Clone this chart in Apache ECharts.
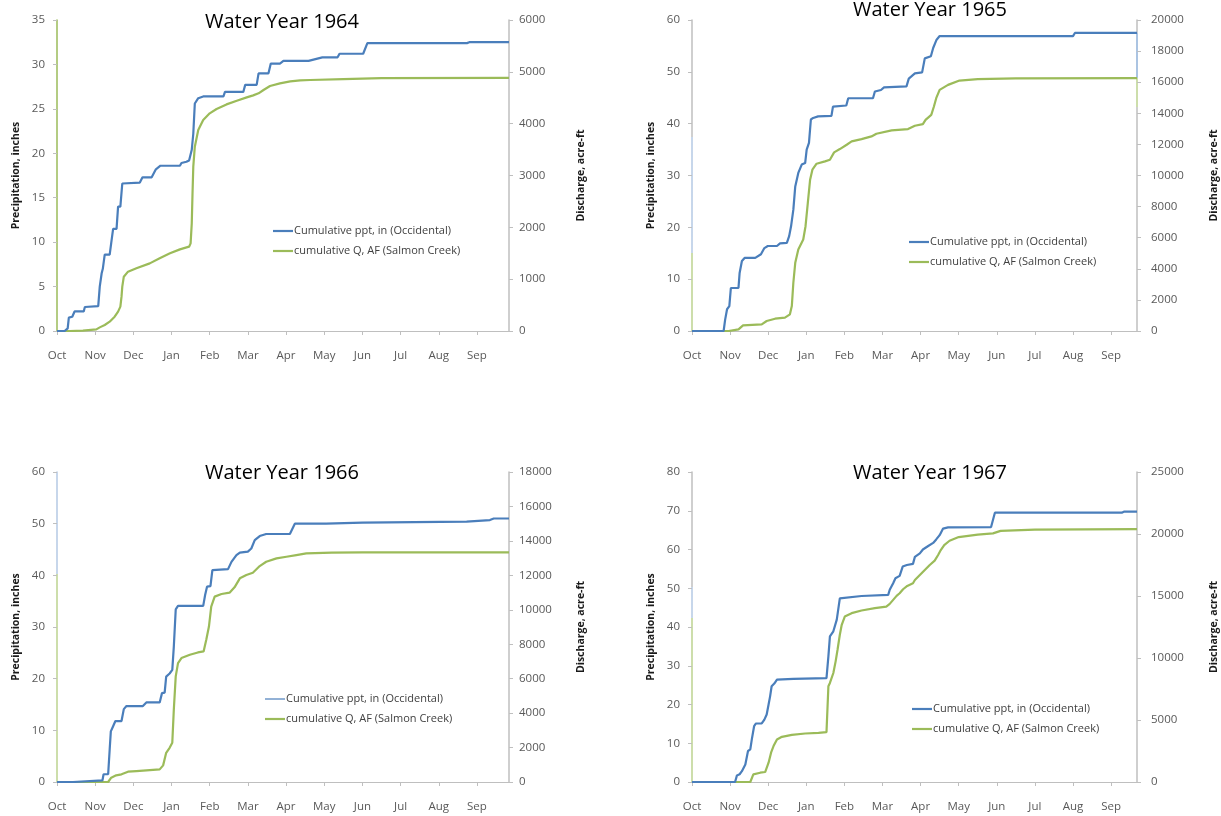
<!DOCTYPE html>
<html><head><meta charset="utf-8">
<script src="https://cdn.jsdelivr.net/npm/echarts@6/dist/echarts.min.js"></script>
<style>html,body{margin:0;padding:0;background:#fff}#c{width:1221px;height:816px}</style>
</head><body><div id="c"></div>
<script>
// ---------- DATA ----------
const monthNames = ['Oct','Nov','Dec','Jan','Feb','Mar','Apr','May','Jun','Jul','Aug','Sep'];
const monthTicks = [0,1,2,3,4,5,6,7,8,9,10,11];
const titles = ['Water Year 1964','Water Year 1965','Water Year 1966','Water Year 1967'];
const pptName = 'Cumulative ppt, in (Occidental)';
const qName = 'cumulative Q, AF (Salmon Creek)';
const pptAxisName = 'Precipitation, inches';
const qAxisName = 'Discharge, acre-ft';
const pptMax = [35, 60, 60, 80];
const pptStep = [5, 10, 10, 10];
const qMax = [6000, 20000, 18000, 25000];
const qStep = [1000, 2000, 2000, 5000];
const monthSpan = [11.84, 11.68, 11.84, 11.68];

// [month since Oct 1, cumulative precipitation in inches]
const ppt1964 = [[0,0],[0.2,0],[0.28,0.3],[0.31,1.5],[0.4,1.6],[0.46,2.2],[0.7,2.2],[0.73,2.7],[1.08,2.8],[1.12,5],[1.17,6.5],[1.2,7],[1.25,8.6],[1.38,8.6],[1.42,9.9],[1.47,11.5],[1.56,11.5],[1.6,14],[1.66,14],[1.71,16.6],[1.75,16.7],[2.17,16.7],[2.24,17.3],[2.48,17.3],[2.59,18.2],[2.71,18.6],[3.22,18.6],[3.26,18.9],[3.39,19.05],[3.46,19.2],[3.53,20.4],[3.57,22.2],[3.61,25.6],[3.7,26.2],[3.83,26.4],[4.36,26.4],[4.4,26.9],[4.88,26.9],[4.93,27.7],[5.23,27.7],[5.28,29],[5.54,29],[5.6,30.1],[5.84,30.1],[5.93,30.4],[6.59,30.4],[6.64,30.6],[6.95,30.8],[7.35,30.8],[7.4,31.2],[8.02,31.2],[8.13,32.4],[10.74,32.4],[10.8,32.5],[11.84,32.5]];
// [month since Oct 1, cumulative discharge in acre-ft]
const q1964 = [[0,0],[0.33,0],[0.68,8],[1.03,32],[1.12,70],[1.25,116],[1.38,180],[1.51,276],[1.6,373],[1.66,470],[1.69,662],[1.71,855],[1.75,1048],[1.86,1145],[2.08,1209],[2.43,1305],[2.69,1402],[2.96,1498],[3.22,1575],[3.46,1627],[3.5,1691],[3.53,2077],[3.55,2656],[3.57,3170],[3.61,3556],[3.7,3877],[3.83,4070],[4.0,4199],[4.18,4282],[4.44,4372],[4.71,4443],[4.97,4507],[5.14,4546],[5.28,4585],[5.41,4649],[5.58,4726],[5.84,4777],[6.11,4816],[6.37,4835],[6.63,4842],[7.5,4860],[8.5,4880],[11.84,4885]];

const ppt1965 = [[0,0],[0.83,0],[0.87,2.2],[0.92,4.2],[0.98,4.8],[1.02,8.3],[1.22,8.3],[1.25,11.2],[1.31,13.5],[1.38,14.1],[1.66,14.1],[1.81,14.8],[1.9,16],[1.99,16.4],[2.23,16.4],[2.31,16.9],[2.49,17],[2.55,18.3],[2.6,20.2],[2.66,23.4],[2.71,27.9],[2.79,30.5],[2.88,32.1],[2.97,32.4],[3.01,35],[3.07,36.3],[3.12,40.8],[3.18,41.1],[3.31,41.4],[3.66,41.5],[3.7,43.3],[4.05,43.5],[4.1,44.9],[4.75,44.9],[4.8,46.2],[4.96,46.5],[5.04,47],[5.63,47.2],[5.69,48.7],[5.85,49.7],[6.04,49.9],[6.11,52.6],[6.27,53],[6.33,54.6],[6.42,56.2],[6.5,56.9],[10.0,56.9],[10.05,57.5],[11.68,57.5]];
const q1965 = [[0,0],[0.96,0],[1.22,107],[1.34,364],[1.83,428],[1.96,642],[2.18,791],[2.44,856],[2.57,1070],[2.62,1604],[2.66,3102],[2.71,4385],[2.79,5240],[2.92,5882],[2.98,6738],[3.04,8235],[3.1,9732],[3.16,10374],[3.27,10759],[3.49,10909],[3.62,11016],[3.73,11486],[3.88,11700],[4.06,11978],[4.19,12192],[4.45,12342],[4.71,12513],[4.84,12684],[5.24,12898],[5.67,12984],[5.85,13198],[6.06,13304],[6.13,13582],[6.28,13903],[6.35,14438],[6.41,14973],[6.5,15508],[6.72,15829],[7.02,16107],[7.5,16200],[8.5,16240],[11.68,16260]];

const ppt1966 = [[0,0],[0.42,0],[0.44,0.3],[1.19,0.3],[1.22,1.5],[1.34,1.5],[1.38,6.3],[1.41,9.8],[1.47,10.8],[1.53,11.8],[1.69,11.8],[1.75,14.1],[1.82,14.7],[2.25,14.7],[2.34,15.4],[2.69,15.4],[2.75,17.2],[2.82,17.3],[2.86,20.4],[2.95,21],[3.02,21.7],[3.06,26.2],[3.11,33.4],[3.17,34.1],[3.83,34.1],[3.88,36.2],[3.93,37.8],[4.02,37.9],[4.07,41],[4.48,41.2],[4.57,42.6],[4.7,43.9],[4.79,44.4],[5.0,44.6],[5.09,45.2],[5.18,46.8],[5.31,47.6],[5.48,48],[6.1,48],[6.23,50],[7.05,50],[7.09,50.2],[8.0,50.2],[8.02,50.4],[10.73,50.4],[10.78,50.7],[11.34,50.7],[11.44,51],[11.84,51]];
const q1966 = [[0,0],[1.34,0],[1.42,251],[1.55,386],[1.69,444],[1.86,598],[2.08,637],[2.43,694],[2.69,733],[2.78,965],[2.86,1698],[2.95,1987],[3.02,2276],[3.06,4205],[3.11,6134],[3.17,6906],[3.26,7195],[3.48,7388],[3.69,7523],[3.84,7581],[3.91,8256],[3.98,9028],[4.04,10185],[4.13,10764],[4.31,10918],[4.52,10995],[4.65,11304],[4.79,11825],[4.96,12018],[5.13,12153],[5.31,12539],[5.48,12789],[5.75,12982],[6.01,13079],[6.27,13175],[6.53,13271],[7.2,13320],[8.0,13330],[11.84,13335]];

const ppt1967 = [[0,0],[1.13,0],[1.18,1.7],[1.25,2],[1.31,2.8],[1.4,4.5],[1.47,8],[1.53,8.4],[1.57,11],[1.63,14.4],[1.68,15.1],[1.83,15.1],[1.9,16.1],[1.96,17.4],[2.01,20],[2.05,22.1],[2.09,24.7],[2.16,25.4],[2.23,26.4],[2.66,26.6],[3.53,26.8],[3.58,32.4],[3.62,37.6],[3.71,38.9],[3.8,41.9],[3.88,47.4],[3.93,47.9],[4.45,48],[5.15,48.3],[5.19,49.6],[5.28,51.3],[5.34,52.6],[5.45,53.2],[5.53,55.6],[5.64,56],[5.8,56.3],[5.85,58.1],[5.98,59],[6.06,60],[6.2,60.9],[6.33,61.7],[6.41,62.6],[6.5,63.7],[6.59,65.4],[6.72,65.7],[7.85,65.8],[7.95,69.5],[11.28,69.5],[11.35,69.8],[11.68,69.8]];
const q1967 = [[0,0],[1.53,0],[1.61,616],[1.79,750],[1.92,804],[2.01,1554],[2.08,2412],[2.14,2894],[2.23,3430],[2.36,3645],[2.62,3806],[2.97,3913],[3.32,3966],[3.53,4020],[3.58,7718],[3.62,7986],[3.71,8790],[3.77,9728],[3.82,10666],[3.88,11872],[3.93,12676],[4.01,13346],[4.19,13614],[4.45,13829],[4.8,14016],[5.1,14150],[5.19,14365],[5.28,14686],[5.37,15008],[5.45,15222],[5.54,15544],[5.65,15812],[5.8,16026],[5.85,16294],[5.98,16696],[6.11,17098],[6.24,17500],[6.37,17849],[6.46,18304],[6.53,18706],[6.62,19108],[6.76,19457],[7.0,19750],[7.5,19950],[7.9,20050],[8.1,20250],[9.0,20350],[11.68,20400]];

const pptSeries = [ppt1964, ppt1965, ppt1966, ppt1967];
const qSeries = [q1964, q1965, q1966, q1967];

// ---------- LAYOUT / STYLE ----------
const BLUE = '#4A7EBB', GREEN = '#9BBB59', GREY = '#BFBFBF', LBLUE = '#B4C9E4', LGREEN = '#BCD38F';
const FONT = '"Open Sans", "DejaVu Sans", sans-serif';
const panels = [
  {grid:{left:57, top:20, width:452, height:311}, title:[282,22], legend:[273,224],
   leftStops:[[0,GREEN],[1,GREEN]], rightStops:[[0,GREY],[1,GREY]], pptIcon:2.2},
  {grid:{left:692, top:20, width:446, height:311}, title:[930,10], legend:[909,235],
   leftStops:[[0,GREY],[0.376,GREY],[0.376,LBLUE],[0.749,LBLUE],[0.749,LGREEN],[1,LGREEN]],
   rightStops:[[0,GREY],[0.042,GREY],[0.042,'#8FB0D8'],[0.188,'#8FB0D8'],[0.188,LGREEN],[0.28,LGREEN],[0.28,GREY],[1,GREY]], pptIcon:2.2},
  {grid:{left:57, top:472, width:452, height:310}, title:[282,473], legend:[265,692],
   leftStops:[[0,LBLUE],[0.33,LBLUE],[0.33,LGREEN],[1,LGREEN]], rightStops:[[0,GREY],[1,GREY]], pptIcon:1.2},
  {grid:{left:692, top:472, width:446, height:310}, title:[930,473], legend:[912,702],
   leftStops:[[0,GREY],[0.37,GREY],[0.37,LBLUE],[0.47,LBLUE],[0.47,LGREEN],[1,LGREEN]], rightStops:[[0,GREY],[1,GREY]], pptIcon:2.2}
];

function grad(g, stops) {
  return {type:'linear', x:0, y:g.top, x2:0, y2:g.top + g.height, global:true,
          colorStops: stops.map(s => ({offset:s[0], color:s[1]}))};
}

const option = {
  animation:false, backgroundColor:'#fff',
  grid:[], xAxis:[], yAxis:[], series:[], legend:[], graphic:[]
};

const legendText = {fontFamily:FONT, fontSize:11, color:'#404040', lineHeight:14, padding:[0,0,0,-4]};

panels.forEach((p, i) => {
  option.grid.push(Object.assign({containLabel:false}, p.grid));
  option.xAxis.push({
    type:'value', gridIndex:i, min:0, max:monthSpan[i],
    axisLine:{show:true, onZero:false, lineStyle:{color:GREY, width:1}},
    axisTick:{show:true, length:4, customValues:monthTicks, lineStyle:{color:GREY}},
    axisLabel:{customValues:monthTicks, formatter:v => monthNames[Math.round(v)] || '',
               color:'#595959', fontFamily:FONT, fontSize:11.5, margin:19},
    splitLine:{show:false}
  });
  option.yAxis.push({
    type:'value', gridIndex:i, position:'left', min:0, max:pptMax[i], interval:pptStep[i],
    name:pptAxisName, nameLocation:'middle', nameRotate:90, nameGap:35,
    nameTextStyle:{fontFamily:FONT, fontSize:10.5, fontWeight:'bold', color:'#1a1a1a'},
    axisLine:{show:true, lineStyle:{color:grad(p.grid, p.leftStops), width:1.5}},
    axisTick:{show:true, length:4, lineStyle:{color:GREY}},
    axisLabel:{color:'#595959', fontFamily:FONT, fontSize:11.5, margin:12, formatter:v => String(v)},
    splitLine:{show:false}
  });
  option.yAxis.push({
    type:'value', gridIndex:i, position:'right', min:0, max:qMax[i], interval:qStep[i],
    name:qAxisName, nameLocation:'middle', nameRotate:90, nameGap:(i % 2 === 0 ? 67 : 72),
    nameTextStyle:{fontFamily:FONT, fontSize:10.5, fontWeight:'bold', color:'#1a1a1a'},
    axisLine:{show:true, lineStyle:{color:grad(p.grid, p.rightStops), width:1.5}},
    axisTick:{show:true, length:4, lineStyle:{color:GREY}},
    axisLabel:{color:'#595959', fontFamily:FONT, fontSize:11.5, margin:(i % 2 === 0 ? 10 : 14), formatter:v => String(v)},
    splitLine:{show:false}
  });
  option.series.push({
    name:pptName, type:'line', xAxisIndex:i, yAxisIndex:2*i, data:pptSeries[i],
    symbol:'none', clip:true, color:BLUE, lineStyle:{color:BLUE, width:2.2}, z:3
  });
  option.series.push({
    name:qName, type:'line', xAxisIndex:i, yAxisIndex:2*i+1, data:qSeries[i],
    symbol:'none', clip:true, color:GREEN, lineStyle:{color:GREEN, width:2.2}, z:2
  });
  option.legend.push({
    orient:'vertical', left:p.legend[0], top:p.legend[1], padding:0,
    icon:'rect', itemWidth:20, itemHeight:p.pptIcon, selectedMode:false,
    data:[pptName], textStyle:legendText
  });
  option.legend.push({
    orient:'vertical', left:p.legend[0], top:p.legend[1] + 20, padding:0,
    icon:'rect', itemWidth:20, itemHeight:2.2, selectedMode:false,
    data:[qName], textStyle:legendText
  });
  option.graphic.push({
    type:'text', x:p.title[0], y:p.title[1], z:10,
    style:{text:titles[i], align:'center', verticalAlign:'middle',
           font:'20px "Open Sans", sans-serif', fill:'#000'}
  });
});

const chart = echarts.init(document.getElementById('c'), null, {renderer:'canvas'});
chart.setOption(option);
</script></body></html>
